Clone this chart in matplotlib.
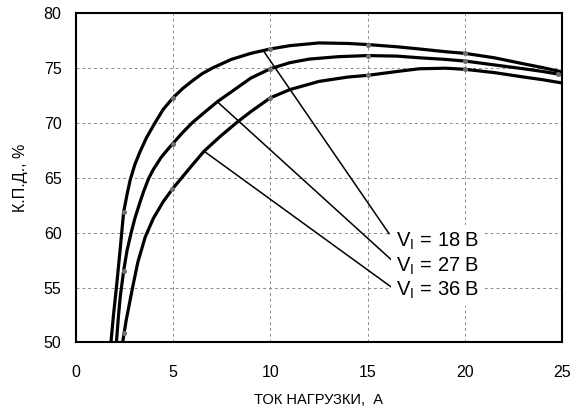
#!/usr/bin/env python3

import matplotlib
matplotlib.use("Agg")
import matplotlib.pyplot as plt

plt.rcParams['font.family'] = ['Liberation Sans', 'DejaVu Sans']
plt.rcParams['mathtext.fontset'] = 'custom'
plt.rcParams['mathtext.rm'] = 'Liberation Sans'

# efficiency curves, load current (A) vs efficiency (%)
current_18 = [1.82, 1.95, 2.1, 2.3, 2.47, 2.65, 2.81, 3.05, 3.3, 3.65, 4.09, 4.5, 5.0, 5.5,
              6.0, 6.5, 7.07, 8.0, 9.0, 10.0, 11.0, 12.5, 14.0, 15.0, 16.5, 17.65, 19.0,
              20.0, 21.5, 23.0, 24.0, 25.0]
eff_18 = [50, 52.5, 55, 58.6, 61.85, 63.5, 64.8, 66.2, 67.3, 68.65, 70, 71.2, 72.25, 73.1,
          73.8, 74.45, 75, 75.75, 76.3, 76.7, 77.0, 77.25, 77.2, 77.1, 76.9, 76.7, 76.45,
          76.3, 75.9, 75.35, 75.0, 74.6]

current_27 = [2.1, 2.2, 2.3, 2.47, 2.65, 2.86, 3.05, 3.3, 3.5, 3.75, 4.0, 4.4, 4.8, 5.0,
              5.5, 6.0, 6.6, 7.28, 8.0, 9.0, 10.0, 11.0, 12.0, 13.5, 15.0, 16.5, 17.65,
              19.0, 20.0, 21.5, 23.0, 24.0, 25.0]
eff_27 = [50, 52.3, 54.2, 56.5, 58.4, 60, 61.3, 62.7, 63.75, 64.9, 65.75, 66.85, 67.7, 68.1,
          69.1, 70.0, 70.9, 71.9, 72.8, 74.05, 74.9, 75.45, 75.78, 76.0, 76.1, 76.05,
          75.9, 75.75, 75.6, 75.25, 74.9, 74.65, 74.35]

current_36 = [2.42, 2.6, 2.93, 3.2, 3.58, 4.0, 4.5, 4.98, 5.46, 6.0, 6.6, 7.4, 8.27, 9.0,
              10.0, 11.0, 12.5, 14.0, 15.0, 16.5, 17.65, 19.0, 20.0, 21.5, 23.0, 24.0, 25.0]
eff_36 = [50, 52.0, 55, 57.3, 59.6, 61.3, 62.8, 63.97, 65.0, 66.15, 67.4, 68.7, 70, 71.0,
          72.25, 73.0, 73.75, 74.15, 74.3, 74.65, 74.9, 74.95, 74.85, 74.55, 74.15, 73.9,
          73.6]

# measured points
dots_x_18 = [2.47, 5.0, 10.0, 15.0, 20.0]
dots_y_18 = [61.85, 72.25, 76.7, 77.1, 76.3]
dots_x_27 = [2.47, 5.0, 10.0, 15.0, 20.0, 24.75]
dots_y_27 = [56.5, 68.1, 74.9, 76.1, 75.6, 74.4]
dots_x_36 = [2.5, 4.98, 10.0, 15.0, 20.0]
dots_y_36 = [50.9, 63.97, 72.25, 74.3, 74.85]

# leader lines: point on curve -> label
leader_from = [(9.7, 76.4), (7.28, 71.9), (6.6, 67.4)]
leader_to = [(16.1, 59.9), (16.2, 57.55), (16.2, 55.06)]
label_text = ['V$_\\mathrm{I}$ = 18 В', 'V$_\\mathrm{I}$ = 27 В', 'V$_\\mathrm{I}$ = 36 В']
label_pos = [(16.45, 58.75), (16.45, 56.4), (16.45, 54.3)]

x_ticks = [0, 5, 10, 15, 20, 25]
y_ticks = [50, 55, 60, 65, 70, 75, 80]


def draw_chart():
    fig = plt.figure(figsize=(5.79, 4.12), dpi=100)
    ax = fig.add_axes([0.1304, 0.1687, 0.841, 0.8005])

    ax.set_xlim(0, 25)
    ax.set_ylim(50, 80)
    ax.set_xticks(x_ticks)
    ax.set_yticks(y_ticks)
    ax.grid(True, color='#8c8c8c', linestyle=(0, (3, 3)), linewidth=0.7, zorder=0)
    ax.set_axisbelow(True)
    ax.tick_params(length=0, labelsize=11.5)
    ax.tick_params(axis='x', pad=16)
    ax.tick_params(axis='y', pad=10)
    for sp in ax.spines.values():
        sp.set_linewidth(1.5)

    for cx, cy in [(current_18, eff_18), (current_27, eff_27), (current_36, eff_36)]:
        ax.plot(cx, cy, color='black', linewidth=2.3, solid_capstyle='butt',
                solid_joinstyle='round', zorder=3)
    for dx, dy in [(dots_x_18, dots_y_18), (dots_x_27, dots_y_27), (dots_x_36, dots_y_36)]:
        ax.plot(dx, dy, linestyle='none', marker='o', markersize=2.6,
                color='#707070', zorder=4)

    for (x0, y0), (x1, y1) in zip(leader_from, leader_to):
        ax.plot([x0, x1], [y0, y1], color='black', linewidth=1.1, zorder=3)

    for txt, (tx, ty) in zip(label_text, label_pos):
        ax.text(tx, ty, txt, fontsize=14.5, va='baseline', ha='left', zorder=5,
                bbox=dict(boxstyle='square,pad=0.25', fc='white', ec='none'))

    ax.set_xlabel('ТОК НАГРУЗКИ,  А', fontsize=10.5)
    ax.set_ylabel('К.П.Д., %', fontsize=11.5)
    ax.xaxis.set_label_coords(0.5, -0.152)
    ax.yaxis.set_label_coords(-0.098, 0.5)
    return fig


if __name__ == "__main__":
    fig = draw_chart()
    fig.savefig("out.png", dpi=100)
    plt.close()
